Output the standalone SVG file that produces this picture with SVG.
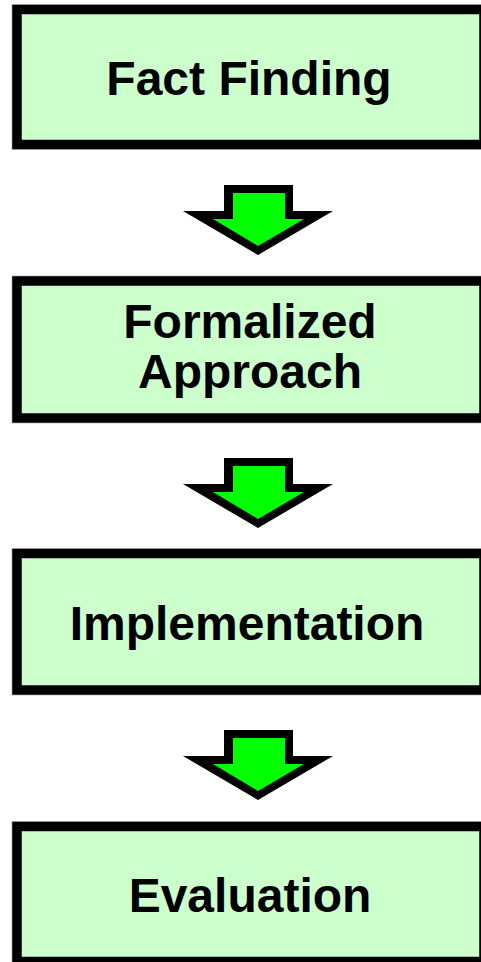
<svg xmlns="http://www.w3.org/2000/svg" width="481" height="962" viewBox="0 0 481 962">
  <style>
    .halo { fill: none; stroke: #c8c8c8; stroke-width: 11; }
    .box { fill: #ccffcc; stroke: #000000; stroke-width: 9.5; }
    .lbl { font-family: "Liberation Sans", Arial, Helvetica, sans-serif; font-weight: bold; font-size: 48px; fill: #000000; text-anchor: middle; }
    .arr-out { fill: #000000; }
    .arr-in { fill: #00ff00; }
  </style>
  <defs>
    <g id="arrow">
      <polygon class="arr-out" points="224,0 293,0 293,26 333,26 258,70 183,26 224,26"/>
      <polygon class="arr-in" points="233,8 285,8 285,34 304,34 258,61 213,34 233,34"/>
    </g>
  </defs>
  <rect width="481" height="962" fill="#ffffff"/>

  <g id="node-fact-finding">
    <rect class="halo" x="17" y="9.5" width="467" height="135"/>
    <rect class="box" x="17" y="9.5" width="467" height="135"/>
    <text class="lbl" x="249" y="95">Fact Finding</text>
  </g>

  <g id="node-formalized-approach">
    <rect class="halo" x="17" y="281" width="467" height="137"/>
    <rect class="box" x="17" y="281" width="467" height="137"/>
    <text class="lbl" x="250" y="338">Formalized</text>
    <text class="lbl" x="250" y="388">Approach</text>
  </g>

  <g id="node-implementation">
    <rect class="halo" x="17" y="553.5" width="467" height="136.5"/>
    <rect class="box" x="17" y="553.5" width="467" height="136.5"/>
    <text class="lbl" x="247" y="640">Implementation</text>
  </g>

  <g id="node-evaluation">
    <rect class="halo" x="17" y="826.5" width="467" height="135"/>
    <rect class="box" x="17" y="826.5" width="467" height="135"/>
    <text class="lbl" x="250" y="912">Evaluation</text>
  </g>

  <g id="connectors">
    <use href="#arrow" x="0" y="185"/>
    <use href="#arrow" x="0" y="458"/>
    <use href="#arrow" x="0" y="730"/>
  </g>
</svg>
